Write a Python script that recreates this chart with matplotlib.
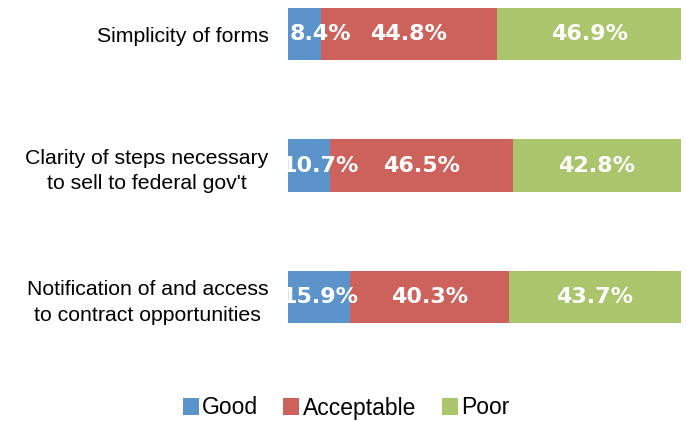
import matplotlib.pyplot as plt
import numpy as np

categories = ["Simplicity of forms",
              "Clarity of steps necessary\nto sell to federal gov't",
              "Notification of and access\nto contract opportunities"]
good = [8.4, 10.7, 15.9]
acceptable = [44.8, 46.5, 40.3]
poor = [46.9, 42.8, 43.7]

series = [("Good", good, "#5B93CB"),
          ("Acceptable", acceptable, "#CD625D"),
          ("Poor", poor, "#AAC56C")]

fig = plt.figure(figsize=(6.86, 4.21), dpi=100)
ax = fig.add_axes([288 / 686, 1 - 370 / 421, (681 - 288) / 686, 370 / 421])

y = np.arange(len(categories))
left = np.zeros(len(categories))
for name, vals, color in series:
    vals = np.array(vals)
    ax.barh(y, vals, left=left, height=0.4, color=color, label=name)
    for yi, l, v in zip(y, left, vals):
        # keep labels inside the plot area like Excel does
        xc = max(l + v / 2, 8.2)
        ax.text(xc, yi, f"{v:.1f}%", ha="center", va="center",
                color="white", fontsize=16, fontweight="bold",
                family="DejaVu Sans")
    left += vals

ax.set_xlim(0, 100)
ax.set_ylim(2.555, -0.259)
ax.set_yticks(y)
ax.set_yticklabels(categories, fontsize=15.3, family="Liberation Sans",
                   linespacing=1.45, multialignment="center")
ax.tick_params(axis="y", length=0, pad=14)
ax.set_xticks([])
for s in ax.spines.values():
    s.set_visible(False)

leg = fig.legend(loc="center", bbox_to_anchor=(346 / 686, 1 - 408 / 421),
                 ncol=3, frameon=False, handlelength=0.7, handleheight=0.7,
                 handletextpad=0.15, columnspacing=1.1,
                 prop={"family": "Liberation Sans", "size": 16.5})

fig.savefig("out.png", dpi=100)
